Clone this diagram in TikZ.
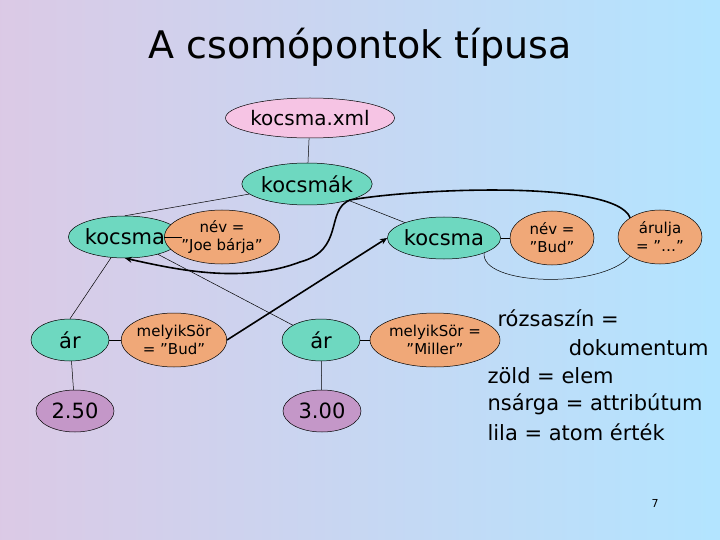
\documentclass[tikz,border=0pt]{standalone}
\usepackage{fontspec}
\setmainfont{DejaVu Sans}
\usetikzlibrary{arrows.meta,shapes.geometric}
\definecolor{elem}{HTML}{6ED8C0}
\definecolor{attr}{HTML}{F0A878}
\definecolor{atom}{HTML}{C497C8}
\definecolor{doc}{HTML}{F6C4E4}
\tikzset{
  nd/.style={ellipse,draw=black,line width=0.5pt,inner sep=0pt,minimum width=78pt,minimum height=42pt},
  elbox/.style={nd,fill=elem,font=\fontsize{21}{23}\selectfont},
  attrbox/.style={nd,fill=attr,minimum width=84pt,minimum height=54pt,align=center,font=\fontsize{15}{18}\selectfont},
  atombox/.style={nd,fill=atom,font=\fontsize{21}{23}\selectfont},
  ln/.style={line width=0.5pt},
  thk/.style={line width=1.6pt,-{Stealth[length=7pt,width=6pt]}},
  leg/.style={font=\fontsize{21}{25}\selectfont,anchor=west}
}
\begin{document}
\begin{tikzpicture}[x=1pt,y=-1pt]
\shade[left color=blue!25!cyan!5!white!80!violet, middle color=white!92!blue, right color=blue!35!cyan!30!white] (0,0) rectangle (720,540);
\useasboundingbox (0,0) rectangle (720,540);
\node[font=\fontsize{38}{40}\selectfont] (title) at (360,47) {A csomópontok típusa};
\node[nd,fill=doc,minimum width=128pt,minimum height=40pt,font=\fontsize{20}{22}\selectfont] (xml) at (310,118) {kocsma.xml};
\node[elbox] (ks) at (307,184) {kocsmák};
\node[elbox] (k1) at (125,237) {kocsma};
\node[attrbox] (n1) at (222,237) {név =\\”Joe bárja”};
\node[elbox] (k2) at (444,238) {kocsma};
\node[attrbox] (n2) at (552,238) {név =\\”Bud”};
\node[attrbox] (ar) at (660,237) {árulja\\= ”…”};
\node[elbox] (a1) at (70,340) {ár};
\node[attrbox] (m1) at (174,340) {melyikSör\\= ”Bud”};
\node[elbox] (a2) at (321,340) {ár};
\node[attrbox,minimum width=100pt] (m2) at (435,340) {melyikSör =\\”Miller”};
\node[atombox] (v1) at (75,411) {2.50};
\node[atombox] (v2) at (322,411) {3.00};
\draw[ln] (xml) -- (ks);
\draw[ln] (ks) -- (k1.north);
\draw[ln] (ks) -- (k2);
\draw[ln] (k1) -- (n1);
\draw[ln] (k1) -- (a1.north);
\draw[ln] (k1) -- (a2);
\draw[ln] (a1) -- (m1);
\draw[ln] (a1) -- (v1);
\draw[ln] (a2) -- (m2);
\draw[ln] (a2) -- (v2);
\draw[ln] (k2) -- (n2);
\draw[ln] (k2.south east) .. controls (480,285) and (600,290) .. (ar.south west);
\draw[thk] (ar.north west) .. controls (615,180) and (420,188) .. (350,200) .. controls (325,210) and (345,250) .. (300,262) .. controls (240,285) and (170,268) .. (k1.south);
\draw[thk] (m1.east) -- (k2.west);
\node[leg] (l1) at (494,318) {rózsaszín =};
\node[leg,anchor=east] (l2) at (712,348) {dokumentum};
\node[leg] (l3) at (484,376) {zöld = elem};
\node[leg] (l4) at (484,404) {nsárga = attribútum};
\node[leg] (l5) at (484,432) {lila = atom érték};
\node[font=\fontsize{11}{13}\selectfont] (pg) at (655,503) {7};
\end{tikzpicture}
\end{document}
